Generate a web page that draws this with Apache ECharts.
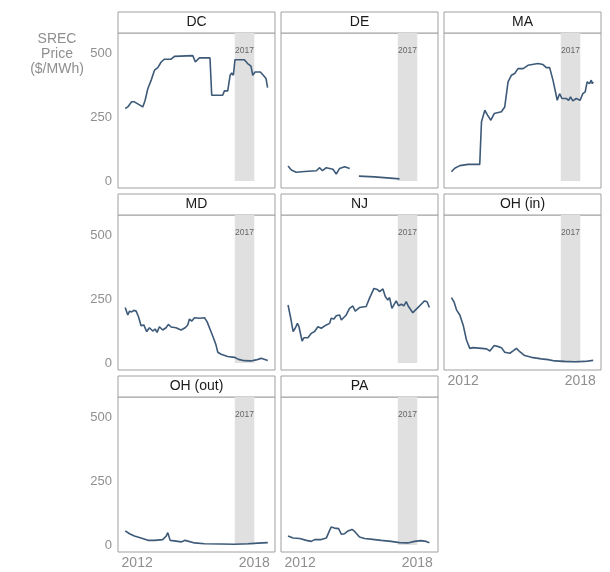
<!DOCTYPE html>
<html>
<head>
<meta charset="utf-8">
<script src="https://cdn.jsdelivr.net/npm/echarts@6/dist/echarts.min.js"></script>
<style>html,body{margin:0;padding:0;background:#fff;}#c{width:610px;height:572px;}</style>
</head>
<body>
<div id="c"></div>
<script>
// ---- data: [decimal year, price $/MWh] ----
const panelNames = ['DC', 'DE', 'MA', 'MD', 'NJ', 'OH (in)', 'OH (out)', 'PA'];
const yTicks = [0, 250, 500];
const xTicks = [2012, 2018];
const bandStart = 2017, bandEnd = 2018, bandLabel = '2017';

const DC = [[2011.39,284],[2011.52,290],[2011.72,310],[2011.86,310],[2012.29,290],[2012.41,316],[2012.55,362],[2012.72,395],[2012.89,434],[2013.06,444],[2013.23,466],[2013.40,477],[2013.74,477],[2013.91,488],[2014.85,491],[2014.98,466],[2015.19,482],[2015.73,482],[2015.82,336],[2016.38,336],[2016.47,353],[2016.64,353],[2016.76,414],[2016.84,423],[2016.93,414],[2017.01,475],[2017.49,475],[2017.66,460],[2017.83,450],[2017.92,414],[2018.04,427],[2018.31,427],[2018.46,414],[2018.60,401],[2018.68,366]];
const DE = [[2011.38,59],[2011.55,43],[2011.80,34],[2012.23,37],[2012.83,40],[2013.00,52],[2013.14,40],[2013.34,52],[2013.68,46],[2013.85,27],[2014.02,49],[2014.28,56],[2014.54,49],[2014.8,null],[2015.01,19],[2015.81,16],[2017.09,8]];
const MA = [[2011.40,36],[2011.57,50],[2011.83,60],[2012.25,65],[2012.85,65],[2012.94,232],[2013.11,277],[2013.25,258],[2013.42,238],[2013.59,264],[2013.96,271],[2014.13,290],[2014.30,388],[2014.47,414],[2014.64,421],[2014.81,440],[2015.07,440],[2015.15,447],[2015.32,453],[2015.83,460],[2016.09,456],[2016.26,444],[2016.43,444],[2016.60,395],[2016.82,316],[2016.94,342],[2017.06,323],[2017.28,323],[2017.40,316],[2017.50,329],[2017.62,314],[2017.79,323],[2017.99,316],[2018.13,342],[2018.25,349],[2018.35,388],[2018.47,381],[2018.56,395],[2018.61,381],[2018.66,388]];
const MD = [[2011.39,217],[2011.52,188],[2011.61,203],[2011.72,200],[2011.83,206],[2011.95,203],[2012.07,181],[2012.20,146],[2012.34,149],[2012.49,123],[2012.63,138],[2012.80,125],[2012.92,133],[2013.02,120],[2013.14,142],[2013.31,129],[2013.48,138],[2013.60,151],[2013.74,141],[2013.99,138],[2014.25,129],[2014.46,138],[2014.59,149],[2014.68,172],[2014.80,164],[2014.94,177],[2015.19,175],[2015.45,177],[2015.58,162],[2015.75,129],[2015.92,96],[2016.04,70],[2016.13,42],[2016.30,34],[2016.64,25],[2016.98,22],[2017.19,14],[2017.49,9],[2017.83,8],[2018.09,12],[2018.35,18],[2018.69,10]];
const NJ = [[2011.38,227],[2011.52,175],[2011.64,123],[2011.76,138],[2011.86,155],[2011.94,142],[2012.10,86],[2012.20,99],[2012.40,99],[2012.57,116],[2012.74,123],[2012.91,142],[2013.08,136],[2013.34,149],[2013.51,155],[2013.59,175],[2013.73,172],[2013.85,185],[2014.02,188],[2014.11,168],[2014.36,188],[2014.53,214],[2014.70,223],[2014.82,203],[2015.04,217],[2015.38,221],[2015.55,253],[2015.78,292],[2015.95,288],[2016.07,279],[2016.24,290],[2016.36,260],[2016.49,247],[2016.58,256],[2016.70,214],[2016.80,221],[2016.92,243],[2017.04,224],[2017.18,230],[2017.31,224],[2017.43,240],[2017.55,221],[2017.77,197],[2018.03,217],[2018.20,230],[2018.37,243],[2018.50,240],[2018.62,217]];
const OH_IN = [[2011.40,256],[2011.54,238],[2011.66,208],[2011.83,188],[2012.00,149],[2012.17,90],[2012.34,57],[2012.51,60],[2012.94,57],[2013.20,55],[2013.37,47],[2013.45,42],[2013.59,68],[2013.80,64],[2013.96,60],[2014.13,42],[2014.39,38],[2014.56,47],[2014.73,57],[2014.90,44],[2015.15,29],[2015.50,22],[2016.01,16],[2016.35,13],[2016.69,8],[2017.21,6],[2017.72,4.5],[2018.23,6],[2018.66,10]];
const OH_OUT = [[2011.39,55],[2011.61,44],[2011.86,35],[2012.20,27],[2012.55,18],[2012.89,18],[2013.31,21],[2013.48,34],[2013.57,48],[2013.69,18],[2013.91,16],[2014.25,12],[2014.46,18],[2014.56,12],[2014.94,8],[2015.45,5],[2016.30,4],[2016.98,3],[2017.66,5],[2018.18,7],[2018.69,9]];
const PA = [[2011.38,35],[2011.64,27],[2011.98,25],[2012.32,18],[2012.57,14],[2012.74,21],[2013.08,21],[2013.34,27],[2013.51,57],[2013.59,70],[2013.76,66],[2013.97,64],[2014.11,42],[2014.28,44],[2014.45,55],[2014.65,61],[2014.79,53],[2015.04,31],[2015.30,25],[2015.72,22],[2016.15,18],[2016.66,14],[2017.09,9],[2017.52,8],[2017.86,14],[2018.20,17],[2018.45,14],[2018.62,9]];
const panelData = [DC, DE, MA, MD, NJ, OH_IN, OH_OUT, PA];

// ---- layout ----
const colLeft = [118, 281, 444];
const rowTop = [33, 215, 397];
const W = 157, H = 155, stripH = 21;
const Y_MIN = -27.6, Y_MAX = 579.6;
const X_MIN = 2011.02, X_MAX = 2019.06;
const font = 'Liberation Sans, Arial, sans-serif';
const grey = '#8f8f8f';
const bottomPanels = [5, 6, 7];

const grids = [], xAxes = [], yAxes = [], series = [], graphics = [];
panelNames.forEach((name, i) => {
  const r = Math.floor(i / 3), c = i % 3;
  grids.push({ left: colLeft[c], top: rowTop[r], width: W, height: H, show: true, borderColor: '#a0a0a0', borderWidth: 1, backgroundColor: '#fff' });
  xAxes.push({
    type: 'value', gridIndex: i, min: X_MIN, max: X_MAX,
    axisLine: { show: false }, axisTick: { show: false }, splitLine: { show: false },
    axisLabel: { show: bottomPanels.includes(i), customValues: xTicks, formatter: v => String(Math.round(v)), color: grey, fontSize: 14, fontFamily: font, margin: 4 }
  });
  yAxes.push({
    type: 'value', gridIndex: i, min: Y_MIN, max: Y_MAX,
    axisLine: { show: false }, axisTick: { show: false }, splitLine: { show: false },
    axisLabel: { show: c === 0, customValues: yTicks, color: grey, fontSize: 13, fontFamily: font, margin: 6 }
  });
  series.push({
    type: 'line', xAxisIndex: i, yAxisIndex: i, data: panelData[i], showSymbol: false, connectNulls: false,
    lineStyle: { color: '#3d5a78', width: 1.6 }, itemStyle: { color: '#3d5a78' }, silent: true, animation: false,
    markArea: {
      silent: true,
      itemStyle: { color: '#e0e0e0', opacity: 1 },
      label: { show: true, position: 'insideTop', distance: 13, color: '#666', fontSize: 8.5, fontFamily: font },
      data: [[{ name: bandLabel, xAxis: bandStart, yAxis: 0 }, { xAxis: bandEnd, yAxis: Y_MAX }]]
    }
  });
  graphics.push({ type: 'rect', shape: { x: colLeft[c], y: rowTop[r] - stripH, width: W, height: stripH }, style: { fill: '#fff', stroke: '#a0a0a0', lineWidth: 1 } });
  graphics.push({ type: 'text', x: colLeft[c] + W / 2, y: rowTop[r] - stripH / 2, style: { text: name, fill: '#1a1a1a', font: '14px ' + font, align: 'center', verticalAlign: 'middle' } });
});
graphics.push({ type: 'text', x: 57, y: 54, style: { text: 'SREC\nPrice\n($/MWh)', fill: grey, font: '14px ' + font, align: 'center', verticalAlign: 'middle', lineHeight: 15 } });

const chart = echarts.init(document.getElementById('c'), null, { renderer: 'canvas' });
chart.setOption({ animation: false, backgroundColor: '#fff', grid: grids, xAxis: xAxes, yAxis: yAxes, series: series, graphic: graphics });
</script>
</body>
</html>
